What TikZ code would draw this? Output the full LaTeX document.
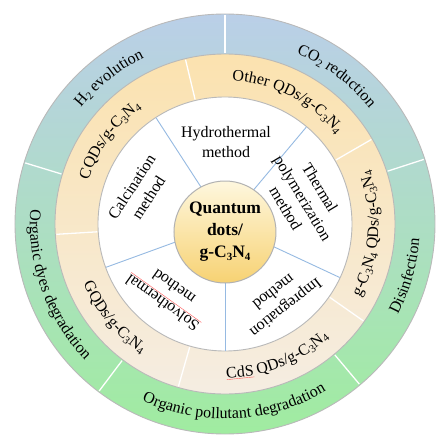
\documentclass[tikz,border=0pt]{standalone}
\usepackage{fontspec}
\setmainfont{Liberation Serif}
\usepackage{xcolor}
\usepackage{tikz}
\usetikzlibrary{decorations.text}

\definecolor{ringblue}{RGB}{186,207,232}
\definecolor{ringmid}{RGB}{240,242,240}
\definecolor{ringgreen}{RGB}{160,236,160}
\definecolor{bandtop}{RGB}{251,226,175}
\definecolor{bandbot}{RGB}{245,237,226}
\definecolor{spoke}{RGB}{150,186,226}
\definecolor{coretop}{RGB}{254,247,222}
\definecolor{corebot}{RGB}{247,210,115}
\newcommand{\sub}[1]{\raisebox{-0.35ex}{\fontsize{11}{11}\selectfont #1}}
\newcommand{\ringfont}{\fontsize{16}{16}\selectfont}
\newcommand{\redul}[1]{{\color{red!65}\underline{\color{black}#1}}}

\begin{document}
\begin{tikzpicture}[x=1pt,y=1pt]

                \tikzstyle{ring}      = [draw=gray!55, line width=0.9pt]
                \tikzstyle{gap}       = [white, line width=1.3pt]
                \tikzstyle{spokeline} = [spoke, line width=0.9pt]
                \tikzstyle{method}    = [font=\fontsize{16}{20}\selectfont, align=center, inner sep=0pt]
                \tikzstyle{core}      = [font=\bfseries\fontsize{17.5}{22}\selectfont, align=center, inner sep=0pt]
                \tikzstyle{cw}        = [decorate, decoration={text along path, text align=center}]

                \useasboundingbox (-225,-224) rectangle (216,224);

                % rings
                \shadedraw [ring, top color=ringblue, middle color=ringmid, bottom color=ringgreen] (0,0) circle (210pt);
                \shadedraw [ring, top color=bandtop, bottom color=bandbot] (0,0) circle (170pt);
                \filldraw [ring, fill=white] (0,0) circle (127pt);

                \foreach \a in {90, 163, 18, -50, 233}
                {
                        \draw [gap] (\a:171) -- (\a:209);
                }
                \foreach \a in {103.5, 30, -35, 254, 183.5}
                {
                        \draw [gap] (\a:128) -- (\a:169);
                }
                \foreach \a in {123, 50, -25, 270, 200}
                {
                        \draw [spokeline] (\a:40) -- (\a:126.5);
                }

                % core
                \shadedraw [draw=gray!60, line width=1pt, top color=coretop, bottom color=corebot] (0,-8) circle (51pt);
                \node [core] (qd) at (0,-8) {Quantum\\dots/\\g-C\sub{3}N\sub{4}};

                % methods
                \node [method] (hydro) at (1,82) {Hydrothermal\\method};
                \node [method, rotate=57] (calc) at (-85,32) {Calcination\\method};
                \node [method, rotate=-59] (thermal) at (78,26) {Thermal\\polymerization\\method};
                \node [method, rotate=218] (impreg) at (55,-76) {Impregnation\\method};
                \node [method, rotate=144.5] (solvo) at (-57,-71) {\redul{Solvothermal}\\method};

                % QDs band
                \path [cw, decoration={text={|\ringfont|CQDs/g-C{\sub{3}}N{\sub{4}}}}] (184:143.5) arc [start angle=184, end angle=104, radius=143.5pt];
                \path [cw, decoration={text={|\ringfont|Other QDs/g-C{\sub{3}}N{\sub{4}}}}] (103:143.5) arc [start angle=103, end angle=23, radius=143.5pt];
                \path [cw, decoration={text={|\ringfont|g-C{\sub{3}}N{\sub{4}} QDs/g-C{\sub{3}}N{\sub{4}}}}] (-44:153.5) arc [start angle=-44, end angle=36, radius=153.5pt];
                \path [cw, decoration={text={|\ringfont|{\redul{CdS}} QDs/g-C{\sub{3}}N{\sub{4}}}}] (251.5:153.5) arc [start angle=251.5, end angle=331.5, radius=153.5pt];
                \path [cw, decoration={text={|\ringfont|GQDs/g-C{\sub{3}}N{\sub{4}}}}] (180:153.5) arc [start angle=180, end angle=260, radius=153.5pt];

                % applications
                \path [cw, decoration={text={|\ringfont|H{\sub{2}} evolution}}] (168.5:185) arc [start angle=168.5, end angle=88.5, radius=185pt];
                \path [cw, decoration={text={|\ringfont|CO{\sub{2}} reduction}}] (93:185) arc [start angle=93, end angle=13, radius=185pt];
                \path [cw, decoration={text={|\ringfont|Disinfection}}] (-56:195) arc [start angle=-56, end angle=24, radius=195pt];
                \path [cw, decoration={text={|\ringfont|Organic pollutant degradation}}] (-132:195) arc [start angle=-132, end angle=-42, radius=195pt];
                \path [cw, decoration={text={|\ringfont|Organic dyes degradation}}] (160:195) arc [start angle=160, end angle=240, radius=195pt];
        \end{tikzpicture}
\end{document}
